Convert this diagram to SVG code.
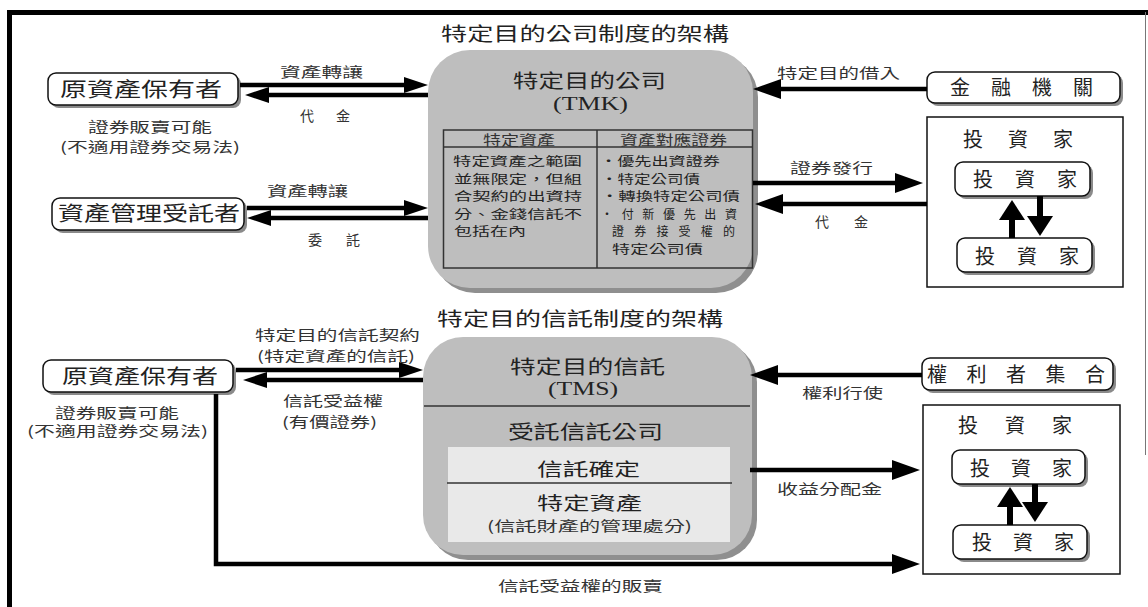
<svg xmlns="http://www.w3.org/2000/svg" width="1148" height="607" viewBox="0 0 1148 607">
  <defs>
    <marker id="hd" markerUnits="userSpaceOnUse" markerWidth="28" markerHeight="20" viewBox="0 0 28 20" refX="2" refY="10" orient="auto">
      <path d="M0,0 L28,10 L0,20 z" fill="#000"/>
    </marker>
    <marker id="hdm" markerUnits="userSpaceOnUse" markerWidth="24" markerHeight="16" viewBox="0 0 24 16" refX="2" refY="8" orient="auto">
      <path d="M0,0 L24,8 L0,16 z" fill="#000"/>
    </marker>
    <marker id="hds" markerUnits="userSpaceOnUse" markerWidth="20" markerHeight="26" viewBox="0 0 20 26" refX="2" refY="13" orient="auto">
      <path d="M0,0 L20,13 L0,26 z" fill="#000"/>
    </marker>
  </defs>
  <style>
    text { font-family: "Noto Sans CJK TC", "Noto Sans CJK JP", sans-serif; fill: #222; }
    .serif { font-family: "Liberation Serif", "Noto Sans CJK TC", serif; }
    .title { font-size: 19px; }
    .big { font-size: 20px; }
    .mid { font-size: 18px; }
    .lb { font-size: 14px; fill: #333; }
    .cell { font-size: 12px; fill: #222; }
    .box { fill: #fff; stroke: #111; stroke-width: 1.5; }
    .shadow { fill: #8a8a8a; }
    .core { fill: #bebebe; }
    .coreShadow { fill: #8f8f8f; }
    .panel { fill: #fff; stroke: #111; stroke-width: 1.5; }
    .rule { stroke: #333; stroke-width: 1.5; fill: none; }
    .wire { fill: none; stroke: #000; stroke-width: 4.5; }
    .wire.hdm { marker-end: url(#hdm); }
    .wire.hd { marker-end: url(#hd); }
    .wire.hds { stroke-width: 6; marker-end: url(#hds); }
  </style>

  <rect width="1148" height="607" fill="#fff"/>

  <!-- frame -->
  <g id="frame">
    <rect x="7" y="10" width="1141" height="5" fill="#000"/>
    <rect x="7" y="10" width="5" height="597" fill="#000"/>
    <line x1="1145.5" y1="12" x2="1145.5" y2="455" stroke="#777" stroke-width="1"/>
  </g>

  <!-- section titles -->
  <text class="title" x="441" y="41" textLength="288" lengthAdjust="spacingAndGlyphs">特定目的公司制度的架構</text>
  <text class="title" x="437" y="326" textLength="286" lengthAdjust="spacingAndGlyphs">特定目的信託制度的架構</text>

  <!-- ===== upper scheme ===== -->
  <g id="tmk">
    <rect class="coreShadow" x="433" y="55" width="325" height="238" rx="42"/>
    <rect class="core" x="428" y="50" width="325" height="238" rx="42"/>
    <text class="title" x="513" y="88" textLength="153" lengthAdjust="spacingAndGlyphs">特定目的公司</text>
    <text class="serif" x="553" y="110" font-size="18" textLength="75" lengthAdjust="spacingAndGlyphs">(TMK)</text>
    <!-- inner table -->
    <rect class="rule" x="443.5" y="130" width="309" height="138"/>
    <line class="rule" x1="443.5" y1="147" x2="752.5" y2="147"/>
    <line class="rule" x1="597" y1="130" x2="597" y2="268"/>
    <text class="lb" x="483" y="145" textLength="72" lengthAdjust="spacingAndGlyphs">特定資產</text>
    <text class="lb" x="620" y="145" textLength="107" lengthAdjust="spacingAndGlyphs">資產對應證券</text>
    <text class="cell">
      <tspan x="453" y="166" textLength="129" lengthAdjust="spacingAndGlyphs">特定資產之範圍</tspan>
      <tspan x="454" y="183.5" textLength="128" lengthAdjust="spacingAndGlyphs">並無限定，但組</tspan>
      <tspan x="454" y="201" textLength="128" lengthAdjust="spacingAndGlyphs">合契約的出資持</tspan>
      <tspan x="454" y="218.5" textLength="128" lengthAdjust="spacingAndGlyphs">分、金錢信託不</tspan>
      <tspan x="454" y="236" textLength="72" lengthAdjust="spacingAndGlyphs">包括在內</tspan>
    </text>
    <text class="cell">
      <tspan x="600" y="166" textLength="120" lengthAdjust="spacingAndGlyphs">•優先出資證券</tspan>
      <tspan x="601" y="183.5" textLength="99" lengthAdjust="spacingAndGlyphs">•特定公司債</tspan>
      <tspan x="601" y="201" textLength="139" lengthAdjust="spacingAndGlyphs">•轉換特定公司債</tspan>
      <tspan x="601" y="218.5" textLength="136" lengthAdjust="spacing">•付新優先出資</tspan>
      <tspan x="612" y="236" textLength="123" lengthAdjust="spacing">證券接受權的</tspan>
      <tspan x="612" y="253.5" textLength="91" lengthAdjust="spacingAndGlyphs">特定公司債</tspan>
    </text>
  </g>

  <g id="holder-top">
    <rect class="shadow" x="51" y="76" width="190" height="32" rx="8"/>
    <rect class="box" x="48" y="73" width="190" height="32" rx="8"/>
    <text class="big" x="60" y="97" textLength="162" lengthAdjust="spacingAndGlyphs">原資產保有者</text>
  </g>
  <text class="lb" x="88" y="132" textLength="124" lengthAdjust="spacingAndGlyphs">證券販賣可能</text>
  <text class="lb" x="60" y="152" textLength="180" lengthAdjust="spacingAndGlyphs">(不適用證券交易法)</text>

  <g id="trustee">
    <rect class="shadow" x="55" y="201" width="192" height="32" rx="8"/>
    <rect class="box" x="52" y="198" width="192" height="32" rx="8"/>
    <text class="big" x="58" y="221" textLength="182" lengthAdjust="spacingAndGlyphs">資產管理受託者</text>
  </g>

  <g id="bank">
    <rect class="shadow" x="930" y="75" width="193" height="31" rx="8"/>
    <rect class="box" x="927" y="72" width="193" height="31" rx="8"/>
    <text class="big" x="950" y="95" letter-spacing="21">金融機關</text>
  </g>

  <g id="investors-top">
    <rect class="panel" x="927" y="117" width="196" height="170"/>
    <text class="big" x="963" y="147" letter-spacing="25">投資家</text>
    <g id="investor-a">
      <rect class="shadow" x="958" y="165" width="135" height="34" rx="8"/>
      <rect class="box" x="955" y="162" width="135" height="34" rx="8"/>
      <text class="big" x="973" y="187" letter-spacing="22">投資家</text>
    </g>
    <g id="investor-b">
      <rect class="shadow" x="960" y="241" width="135" height="34" rx="8"/>
      <rect class="box" x="957" y="238" width="135" height="34" rx="8"/>
      <text class="big" x="975" y="264" letter-spacing="22">投資家</text>
    </g>
  </g>

  <!-- ===== lower scheme ===== -->
  <g id="tms">
    <rect class="coreShadow" x="428" y="342" width="329" height="218" rx="40"/>
    <rect class="core" x="423" y="337" width="329" height="218" rx="40"/>
    <text class="title" x="510" y="374" textLength="155" lengthAdjust="spacingAndGlyphs">特定目的信託</text>
    <text class="serif" x="548" y="395" font-size="18" textLength="70" lengthAdjust="spacingAndGlyphs">(TMS)</text>
    <line class="rule" x1="424" y1="406" x2="750" y2="406"/>
    <text class="title" x="508" y="439" textLength="155" lengthAdjust="spacingAndGlyphs">受託信託公司</text>
    <rect x="448" y="447" width="282" height="95" fill="#e9e9e9"/>
    <line class="rule" x1="447" y1="483" x2="732" y2="483"/>
    <text class="mid" x="537" y="476" textLength="103" lengthAdjust="spacingAndGlyphs">信託確定</text>
    <text class="mid" x="537" y="510" textLength="105" lengthAdjust="spacingAndGlyphs">特定資產</text>
    <text class="lb" x="487" y="531" textLength="205" lengthAdjust="spacingAndGlyphs">(信託財產的管理處分)</text>
  </g>

  <g id="holder-bottom">
    <rect class="shadow" x="46" y="363" width="190" height="32" rx="8"/>
    <rect class="box" x="43" y="360" width="190" height="32" rx="8"/>
    <text class="big" x="62" y="384" textLength="156" lengthAdjust="spacingAndGlyphs">原資產保有者</text>
  </g>
  <text class="lb" x="55" y="418" textLength="124" lengthAdjust="spacingAndGlyphs">證券販賣可能</text>
  <text class="lb" x="27" y="436" textLength="181" lengthAdjust="spacingAndGlyphs">(不適用證券交易法)</text>

  <g id="rights-holders">
    <rect class="shadow" x="925" y="361" width="191" height="32" rx="8"/>
    <rect class="box" x="922" y="358" width="191" height="32" rx="8"/>
    <text class="big" x="927" y="382" letter-spacing="19.5">權利者集合</text>
  </g>

  <g id="investors-bottom">
    <rect class="panel" x="923" y="405" width="197" height="169"/>
    <text class="big" x="958" y="433" letter-spacing="27">投資家</text>
    <g id="investor-c">
      <rect class="shadow" x="955" y="453" width="133" height="34" rx="8"/>
      <rect class="box" x="952" y="450" width="133" height="34" rx="8"/>
      <text class="big" x="970" y="476" letter-spacing="21">投資家</text>
    </g>
    <g id="investor-d">
      <rect class="shadow" x="956" y="528" width="134" height="34" rx="8"/>
      <rect class="box" x="953" y="525" width="134" height="34" rx="8"/>
      <text class="big" x="972" y="550" letter-spacing="21">投資家</text>
    </g>
  </g>

  <!-- connectors -->
  <g id="connectors">
    <path class="wire hdm" d="M240,85 H406"/>
    <path class="wire hdm" d="M428,95 H267"/>
    <path class="wire hdm" d="M247,208 H406"/>
    <path class="wire hdm" d="M428,218 H269"/>
    <path class="wire hd" d="M927,89 H779"/>
    <path class="wire hd" d="M753,183 H897"/>
    <path class="wire hd" d="M927,204 H781"/>
    <path class="wire hds" d="M1012,238 V218"/>
    <path class="wire hds" d="M1040,196 V218"/>

    <path class="wire hdm" d="M236,370 H401"/>
    <path class="wire hdm" d="M423,380 H265"/>
    <path class="wire hd" d="M922,375 H776"/>
    <path class="wire hd" d="M750,470 H894"/>
    <path class="wire hd" d="M216,394 V564 H894"/>
    <path class="wire hds" d="M1010,525 V505"/>
    <path class="wire hds" d="M1035,484 V504"/>
  </g>

  <!-- connector labels -->
  <g id="labels">
    <text class="lb" x="280" y="77" textLength="83" lengthAdjust="spacingAndGlyphs">資產轉讓</text>
    <text class="lb" x="300" y="121" letter-spacing="22">代金</text>
    <text class="lb" x="267" y="196" textLength="81" lengthAdjust="spacingAndGlyphs">資產轉讓</text>
    <text class="lb" x="308" y="245" letter-spacing="24">委託</text>
    <text class="lb" x="777" y="78" textLength="123" lengthAdjust="spacingAndGlyphs">特定目的借入</text>
    <text class="lb" x="790" y="173" textLength="83" lengthAdjust="spacingAndGlyphs">證券發行</text>
    <text class="lb" x="815" y="227" letter-spacing="25">代金</text>

    <text class="lb" x="255" y="340" textLength="165" lengthAdjust="spacingAndGlyphs">特定目的信託契約</text>
    <text class="lb" x="257" y="361" textLength="158" lengthAdjust="spacingAndGlyphs">(特定資產的信託)</text>
    <text class="lb" x="283" y="406" textLength="100" lengthAdjust="spacingAndGlyphs">信託受益權</text>
    <text class="lb" x="282" y="427" textLength="95" lengthAdjust="spacingAndGlyphs">(有價證券)</text>
    <text class="lb" x="802" y="398" textLength="81" lengthAdjust="spacingAndGlyphs">權利行使</text>
    <text class="lb" x="777" y="494" textLength="105" lengthAdjust="spacingAndGlyphs">收益分配金</text>
    <text class="lb" x="498" y="591" textLength="165" lengthAdjust="spacingAndGlyphs">信託受益權的販賣</text>
  </g>
</svg>
